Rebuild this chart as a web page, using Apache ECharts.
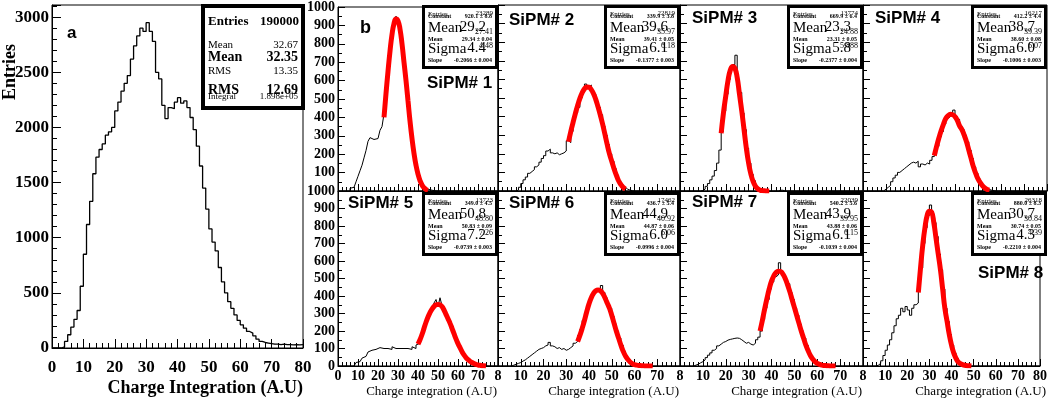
<!DOCTYPE html>
<html>
<head>
<meta charset="utf-8">
<script src="https://cdn.jsdelivr.net/npm/echarts@6/dist/echarts.min.js"></script>
<style>
html, body { margin: 0; padding: 0; background: #fff; }
#chart { width: 1050px; height: 400px; }
</style>
</head>
<body>
<div id="chart"></div>
<script>
// panel a: all channels, counts per 1-unit bin (0..79)
var binsAll = [0,0,0,10,60,120,190,260,340,560, 850,1120,1330,1580,1730,1800,1850,1930,1960,2000,
  2150,2230,2330,2400,2470,2620,2740,2830,2900,2870, 2950,2870,2780,2500,2440,2200,2080,2180,2170,2230,
  2270,2220,2240,2180,2090,1980,1830,1650,1450,1260, 1080,960,880,730,600,500,420,360,300,250,
  210,180,150,135,110,80,60,50,45,40, 35,35,30,35,30,30,28,30,28,30];

// panel b: one histogram per SiPM, counts per 1-unit bin (0..79)
var sipm1 = [0,0,0,0,0,0,15,20,20,50, 80,110,140,180,220,270,290,280,275,285,
  290,330,350,420,540,660,760,850,900,950, 920,870,790,700,600,480,380,290,200,140,
  90,60,35,20,10,6,4,2,1,0, 0,0,0,0,0,0,0,0,0,0, 0,0,0,0,0,0,0,0,0,0, 0,0,0,0,0,0,0,0,0,0];
var sipm2 = [0,0,0,0,0,0,0,0,5,20, 40,60,75,95,105,115,130,140,155,175,
  190,215,225,205,200,205,195,200,205,215, 270,260,320,380,420,450,500,530,575,560,
  570,540,520,470,450,410,350,300,250,200, 160,120,85,55,35,20,10,5,2,0,
  0,0,0,0,0,0,0,0,0,0, 0,0,0,0,0,0,0,0,0,0];
var sipm3 = [0,0,0,0,0,0,0,0,0,3, 10,25,40,60,80,110,150,220,320,430,
  520,600,660,680,730,600,530,420,330,230, 150,90,55,25,12,5,3,1,0,0,
  0,0,0,4,4,0,0,0,0,0, 0,0,0,0,0,0,0,0,0,0, 0,0,0,0,0,0,0,0,0,0, 0,0,0,0,0,0,0,0,0,0];
var sipm4 = [0,0,0,0,0,0,0,0,0,10, 20,30,50,70,85,100,110,120,130,140,
  150,155,150,160,130,145,140,150,145,165, 185,200,240,290,320,360,390,400,420,435,
  400,385,350,330,300,265,220,175,130,95, 65,45,28,16,8,4,2,0,0,0,
  0,0,0,0,0,0,0,0,0,0, 0,0,0,0,0,0,0,0,0,0];
var sipm5 = [0,0,0,0,0,0,0,0,10,20, 25,35,45,55,65,80,90,100,95,100,
  105,95,100,110,100,105,95,110,100,105, 100,95,100,90,100,95,95,110,100,120,
  130,150,190,215,250,290,305,325,360,380, 340,390,345,330,290,270,240,215,185,150,
  130,105,80,60,48,35,25,18,12,8, 5,3,2,1,0,0,0,0,0,0];
var sipm6 = [0,0,0,0,0,0,5,10,15,20, 28,35,45,55,65,75,85,95,100,105,
  115,120,135,115,110,100,105,95,100,90, 95,105,115,130,140,175,210,260,300,340,
  370,400,420,440,430,460,420,390,355,330, 285,240,200,160,120,85,55,38,24,14,
  8,5,3,2,0,0,0,0,0,0, 0,0,0,0,0,0,0,0,0,0];
var sipm7 = [0,0,0,0,0,0,5,10,18,25, 35,48,62,75,90,100,115,125,135,140,
  148,152,155,158,160,158,150,140,130,135, 125,120,130,150,165,200,265,330,380,440,
  480,510,520,590,530,520,490,470,420,380, 330,290,240,200,160,120,85,60,40,25,
  15,8,5,3,2,1,0,0,0,0, 0,0,0,0,0,0,0,0,0,0];
var sipm8 = [0,0,0,0,0,0,5,15,30,60, 90,120,150,190,230,270,290,330,310,340,
  320,290,330,350,360,430,560,700,790,860, 920,870,820,740,640,550,440,330,255,180,
  120,75,45,25,14,8,4,2,0,0, 0,0,0,0,0,0,0,0,0,0, 0,0,0,0,0,0,0,0,0,0, 0,0,0,0,0,0,0,0,0,0];

// gaussian fit curves: first x, then values at x, x+1, ...
var fit1Start = 23, fit1 = [400,530,650,760,850,910,935,925,880,800,700,600,490,380,285,205,140,92,57,33,18,8,3];
var fit2Start = 31, fit2 = [265,320,369,416,460,498,528,549,559,558,545,523,491,451,407,359,305,250,200,160,120,85,55,35,20,10];
var fit3Start = 18, fit3 = [310,420,510,595,650,670,660,610,520,430,330,230,150,90,50,25,12,5,2,1,0,0];
var fit4Start = 31, fit4 = [190,240,285,325,360,390,405,412,410,400,380,350,330,300,265,220,175,130,95,65,45,28,16,8,4];
var fit5Start = 40, fit5 = [125,150,180,215,250,280,305,325,340,350,352,350,340,320,295,270,245,215,185,155,128,105,82,63,48,36,27,20,14,9,6,4,2,1,0];
var fit6Start = 35, fit6 = [140,175,215,260,310,355,390,415,430,435,430,415,390,360,330,290,245,200,160,120,85,58,38,24,14,8,5,3,2,1,0,0,0,0];
var fit7Start = 35, fit7 = [200,260,325,385,440,485,515,535,542,540,525,500,465,425,380,335,290,245,200,160,120,88,60,40,25,15,9,5,3,2,1,0,0,0];
var fit8Start = 25, fit8 = [420,560,690,790,860,885,880,820,730,640,550,440,330,255,180,120,75,45,24,14,8,4,2,1,0];

var sipmNames = ['SiPM# 1','SiPM# 2','SiPM# 3','SiPM# 4','SiPM# 5','SiPM# 6','SiPM# 7','SiPM# 8'];
// stats box texts: entries, constant, mean, mean(small), mean fit, sigma, sigma(small), slope
var statEntries = ['23289','22819','13774','16217','13723','17462','22039','26318'];
var statConst = ['920.1 \u00b1 8.8','339.9 \u00b1 3.8','669.9 \u00b1 6.4','412.2 \u00b1 4.4','349.0 \u00b1 4.5','436.7 \u00b1 5.4','540.2 \u00b1 5.6','880.0 \u00b1 8.3'];
var statMean = ['29.2','39.6','23.3','38.7','50.8','44.9','43.9','30.7'];
var statMeanSmall = ['27.41','35.97','24.88','39.39','48.80','40.92','39.95','30.84'];
var statMeanFit = ['29.34 \u00b1 0.04','39.41 \u00b1 0.05','23.31 \u00b1 0.05','38.60 \u00b1 0.08','50.83 \u00b1 0.09','44.87 \u00b1 0.06','43.88 \u00b1 0.06','30.74 \u00b1 0.05'];
var statSigma = ['4.4','6.1','5.8','6.0','7.2','6.0','6.1','4.3'];
var statSigmaSmall = ['4.48','6.18','5.888','6.07','7.26','6.06','6.15','4.39'];
var statSlope = ['-0.2066 \u00b1 0.004','-0.1377 \u00b1 0.003','-0.2377 \u00b1 0.004','-0.1006 \u00b1 0.003','-0.0739 \u00b1 0.003','-0.0996 \u00b1 0.004','-0.1039 \u00b1 0.004','-0.2210 \u00b1 0.004'];

var SERIF = '"Liberation Serif", "DejaVu Serif", serif';
var SANS = '"Liberation Sans", Arial, sans-serif';

var chart = echarts.init(document.getElementById('chart'));

function toSteps(counts) {
  var out = [];
  for (var i = 0; i < counts.length; i++) out.push([i, counts[i]]);
  out.push([counts.length, counts[counts.length - 1]]);
  return out;
}
function toCurve(start, vals) {
  var out = [];
  for (var i = 0; i < vals.length; i++) out.push([start + i, vals[i]]);
  return out;
}

var colLeft = [338, 498, 680, 863];
var colWidth = [160, 182, 183, 184];
var rowTop = [5, 191];
var rowHeight = [186, 175];

var grids = [{ left: 52, top: 5, width: 251, height: 343, show: true, borderColor: '#000', borderWidth: 1 }];
var xAxes = [{
  gridIndex: 0, type: 'value', min: 0, max: 80, interval: 10,
  axisLine: { show: true, lineStyle: { color: '#000' } },
  axisTick: { inside: true, length: 9, lineStyle: { color: '#000' } },
  minorTick: { show: true, splitNumber: 5, length: 5, lineStyle: { color: '#000' } },
  splitLine: { show: false },
  axisLabel: { color: '#000', fontFamily: SERIF, fontWeight: 'bold', fontSize: 17, margin: 11 }
}];
var yAxes = [{
  gridIndex: 0, type: 'value', min: 0, max: 3110, interval: 500,
  axisLine: { show: true, lineStyle: { color: '#000' } },
  axisTick: { inside: true, length: 9, lineStyle: { color: '#000' } },
  minorTick: { show: true, splitNumber: 5, length: 5, lineStyle: { color: '#000' } },
  splitLine: { show: false },
  axisLabel: { color: '#000', fontFamily: SERIF, fontWeight: 'bold', fontSize: 17, margin: 3,
    formatter: function (v) { return v % 500 === 0 ? String(v) : ''; } }
}];
var series = [{
  type: 'line', xAxisIndex: 0, yAxisIndex: 0, step: 'end', symbol: 'none',
  lineStyle: { color: '#000', width: 1.3 }, data: toSteps(binsAll), z: 3
}];

var hists = [sipm1, sipm2, sipm3, sipm4, sipm5, sipm6, sipm7, sipm8];
var fits = [toCurve(fit1Start, fit1), toCurve(fit2Start, fit2), toCurve(fit3Start, fit3), toCurve(fit4Start, fit4),
  toCurve(fit5Start, fit5), toCurve(fit6Start, fit6), toCurve(fit7Start, fit7), toCurve(fit8Start, fit8)];

for (var p = 0; p < 8; p++) {
  var row = Math.floor(p / 4), col = p % 4, gi = p + 1;
  grids.push({ left: colLeft[col], top: rowTop[row], width: colWidth[col], height: rowHeight[row],
    show: true, borderColor: '#000', borderWidth: 1 });
  xAxes.push({
    gridIndex: gi, type: 'value', min: 0, max: 80, interval: 10,
    axisLine: { show: true, lineStyle: { color: '#000' } },
    axisTick: { inside: true, length: 7, lineStyle: { color: '#000' } },
    minorTick: { show: true, splitNumber: 5, length: 4, lineStyle: { color: '#000' } },
    splitLine: { show: false },
    axisLabel: {
      show: row === 1, color: '#000', fontFamily: SERIF, fontWeight: 'bold', fontSize: 14, margin: 3,
      formatter: (function (c) {
        return function (v) {
          if (v === 0 && c > 0) return '';
          if (v === 80 && c < 3) return '8';
          return String(v);
        };
      })(col)
    }
  });
  yAxes.push({
    gridIndex: gi, type: 'value', min: 0, max: 1000, interval: 100,
    axisLine: { show: true, lineStyle: { color: '#000' } },
    axisTick: { inside: true, length: 7, lineStyle: { color: '#000' } },
    minorTick: { show: true, splitNumber: 2, length: 4, lineStyle: { color: '#000' } },
    splitLine: { show: false },
    axisLabel: {
      show: col === 0, color: '#000', fontFamily: SERIF, fontWeight: 'bold', fontSize: 14, margin: 3,
      formatter: (function (r) {
        return function (v) { return (v === 0 && r === 0) ? '' : String(v); };
      })(row)
    }
  });
  series.push({
    type: 'line', xAxisIndex: gi, yAxisIndex: gi, step: 'end', symbol: 'none',
    lineStyle: { color: '#000', width: 1 }, data: toSteps(hists[p]), z: 3
  });
  series.push({
    type: 'line', xAxisIndex: gi, yAxisIndex: gi, smooth: true, symbol: 'none',
    lineStyle: { color: '#ff0000', width: 5 }, data: fits[p], z: 4
  });
}

// texts, labels and stats boxes
var g = [];
function txt(x, y, s, font, align, extra) {
  var e = { type: 'text', x: x, y: y, z: 100,
    style: { text: s, font: font, fill: '#000', align: align || 'left', verticalAlign: 'middle' } };
  if (extra) for (var k in extra) e[k] = extra[k];
  g.push(e);
}
function box(x, y, w, h, lw) {
  g.push({ type: 'rect', z: 99, shape: { x: x + lw / 2, y: y + lw / 2, width: w - lw, height: h - lw },
    style: { fill: '#fff', stroke: '#000', lineWidth: lw } });
}

// panel a
txt(10, 72, 'Entries', 'bold 18px ' + SERIF, 'center', { rotation: Math.PI / 2 });
txt(303, 388, 'Charge Integration (A.U)', 'bold 18px ' + SERIF, 'right');
txt(67, 33, 'a', 'bold 17px ' + SANS, 'left');
box(201, 4, 104, 106, 4);
txt(208, 22, 'Entries', 'bold 13px ' + SERIF, 'left');
txt(299, 22, '190000', 'bold 13px ' + SERIF, 'right');
txt(208, 45, 'Mean', '11px ' + SERIF, 'left');
txt(298, 45, '32.67', '11px ' + SERIF, 'right');
txt(208, 57, 'Mean', 'bold 14px ' + SERIF, 'left');
txt(298, 57, '32.35', 'bold 14px ' + SERIF, 'right');
txt(208, 71, 'RMS', '11px ' + SERIF, 'left');
txt(298, 71, '13.35', '11px ' + SERIF, 'right');
txt(208, 97, 'Integral', '9px ' + SERIF, 'left');
txt(298, 97, '1.898e+05', '9px ' + SERIF, 'right');
txt(208, 90, 'RMS', 'bold 14px ' + SERIF, 'left');
txt(298, 90, '12.69', 'bold 14px ' + SERIF, 'right');

// panel b
txt(360, 28, 'b', 'bold 18px ' + SANS, 'left');
var namePos = [[427, 83], [509, 20], [692, 18], [875, 18], [348, 203], [509, 203], [692, 202], [978, 273]];
for (var q = 0; q < 8; q++) {
  txt(namePos[q][0], namePos[q][1], sipmNames[q], 'bold 17px ' + SANS, 'left');
  var r = Math.floor(q / 4), c = q % 4;
  var bx = colLeft[c] + colWidth[c] - 76, by = rowTop[r] + (r === 0 ? 0 : 1), bw = 76, bh = 64;
  box(bx, by, bw, bh, 3);
  txt(bx + 6, by + 9, 'Entries', '7px ' + SERIF, 'left');
  txt(bx + bw - 5, by + 8, statEntries[q], '7px ' + SERIF, 'right');
  txt(bx + 6, by + 11, 'Constant', 'bold 6px ' + SERIF, 'left');
  txt(bx + bw - 6, by + 11, statConst[q], 'bold 6px ' + SERIF, 'right');
  txt(bx + 6, by + 23, 'Mean', '15px ' + SERIF, 'left');
  txt(bx + bw - 12, by + 22, statMean[q], '15px ' + SERIF, 'right');
  txt(bx + bw - 5, by + 27, statMeanSmall[q], '8px ' + SERIF, 'right');
  txt(bx + 6, by + 34, 'Mean', 'bold 6px ' + SERIF, 'left');
  txt(bx + bw - 6, by + 34, statMeanFit[q], 'bold 6px ' + SERIF, 'right');
  txt(bx + 6, by + 44, 'Sigma', '15px ' + SERIF, 'left');
  txt(bx + bw - 12, by + 43, statSigma[q], '15px ' + SERIF, 'right');
  txt(bx + bw - 5, by + 41, statSigmaSmall[q], '8px ' + SERIF, 'right');
  txt(bx + 6, by + 55, 'Slope', 'bold 6px ' + SERIF, 'left');
  txt(bx + bw - 6, by + 55, statSlope[q], 'bold 6px ' + SERIF, 'right');
}
for (var cc = 0; cc < 4; cc++) {
  txt(colLeft[cc] + colWidth[cc] - 1, 392, 'Charge integration (A.U)', '13px ' + SERIF, 'right');
}

chart.setOption({
  animation: false,
  backgroundColor: '#fff',
  grid: grids,
  xAxis: xAxes,
  yAxis: yAxes,
  series: series,
  graphic: { elements: g }
});
</script>
</body>
</html>
